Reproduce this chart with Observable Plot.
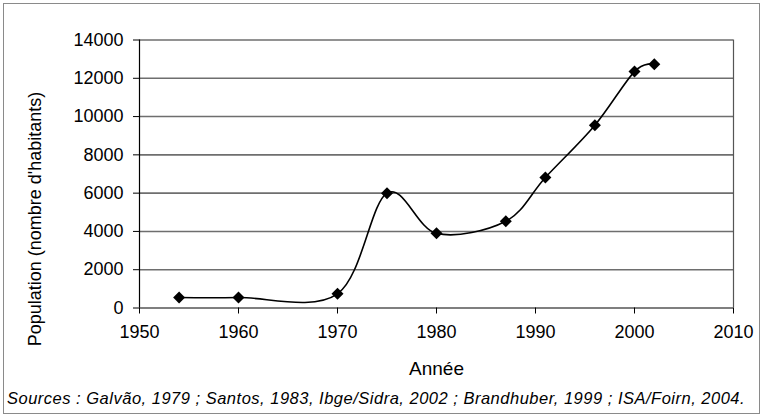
<!DOCTYPE html>
<html>
<head>
<meta charset="utf-8">
<script src="https://cdn.jsdelivr.net/npm/d3@7"></script>
<script src="https://cdn.jsdelivr.net/npm/@observablehq/plot@0.6"></script>
<style>
  html, body { margin: 0; padding: 0; background: #fff; }
  #wrap { position: relative; width: 763px; height: 417px; overflow: hidden; font-family: "Liberation Sans", Arial, sans-serif; }
  #frame { position: absolute; left: 3px; top: 3px; width: 757px; height: 411px; border: 1.5px solid #8a8a8a; box-sizing: border-box; }
  #chart { position: absolute; left: 0; top: 0; }
  #caption { position: absolute; left: 7px; top: 389px; font-size: 16.5px; letter-spacing: 0.5px; font-style: italic; color: #000; white-space: nowrap; }
</style>
</head>
<body>
<div id="wrap">
  <div id="chart"></div>
  <div id="frame"></div>
  <div id="caption"></div>
</div>
<script>
const years = [1954, 1960, 1970, 1975, 1980, 1987, 1991, 1996, 2000, 2002];
const population = [550, 550, 740, 6000, 3900, 4530, 6820, 9550, 12350, 12730];
const yTicks = [0, 2000, 4000, 6000, 8000, 10000, 12000, 14000];
const xTicks = [1950, 1960, 1970, 1980, 1990, 2000, 2010];
const yTitle = "Population (nombre d'habitants)";
const xTitle = "Année";
const caption = "Sources : Galvão, 1979 ; Santos, 1983, Ibge/Sidra, 2002 ; Brandhuber, 1999 ; ISA/Foirn, 2004.";

const data = years.map((y, i) => ({year: y, pop: population[i]}));

const chart = Plot.plot({
  width: 763,
  height: 385,
  marginLeft: 139,
  marginRight: 30,
  marginTop: 39.5,
  marginBottom: 77.5,
  style: {fontFamily: "'Liberation Sans', Arial, sans-serif", fontSize: "18px", color: "#000", background: "transparent"},
  x: {domain: [1950, 2010], ticks: xTicks, tickFormat: d => String(d), tickSize: 6, tickPadding: 11, label: null},
  y: {domain: [0, 14000], ticks: yTicks, tickFormat: d => String(d), tickSize: 6, tickPadding: 10, label: null},
  marks: [
    Plot.ruleY(yTicks.filter(d => d > 0), {stroke: "#6e6e6e", strokeWidth: 1.6, strokeOpacity: 1}),
    Plot.ruleX([2010], {stroke: "#555", strokeWidth: 1.2}),
    Plot.ruleX([1950], {stroke: "#000", strokeWidth: 1.2}),
    Plot.ruleY([0], {stroke: "#000", strokeWidth: 1.2}),
    Plot.axisY({ticks: yTicks, tickFormat: d => String(d), tickSize: 6, tickPadding: 10, label: null, fontSize: 18}),
    Plot.axisX({ticks: xTicks, tickFormat: d => String(d), tickSize: 6, tickPadding: 11, label: null, fontSize: 18}),
    Plot.line(data, {x: "year", y: "pop", curve: "cardinal", stroke: "#000", strokeWidth: 1.6}),
    Plot.dot(data, {x: "year", y: "pop", symbol: "diamond2", r: 5.4, fill: "#000", stroke: "none"}),
    Plot.text([yTitle], {frameAnchor: "left", rotate: -90, dx: -104, dy: 45, fontSize: 18, textAnchor: "middle", lineAnchor: "middle", fill: "#000"}),
    Plot.text([xTitle], {frameAnchor: "bottom", dy: 61, fontSize: 19, textAnchor: "middle", lineAnchor: "middle", fill: "#000"})
  ]
});
document.getElementById("chart").appendChild(chart);
document.getElementById("caption").textContent = caption;
</script>
</body>
</html>
